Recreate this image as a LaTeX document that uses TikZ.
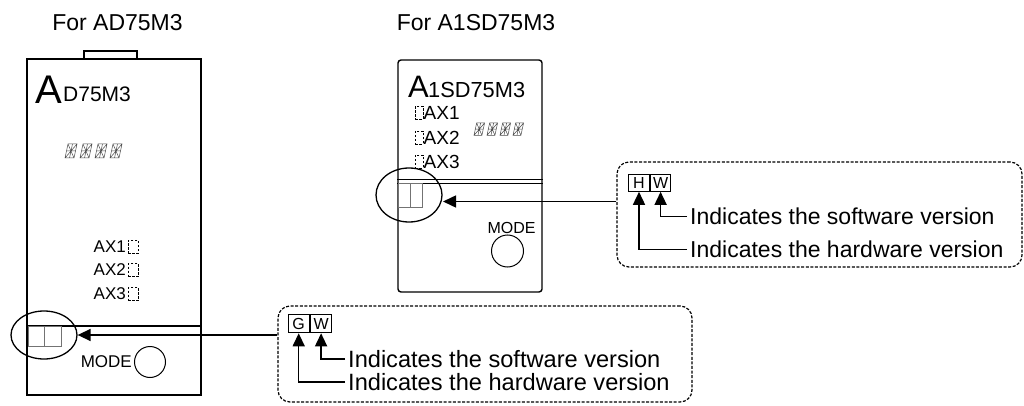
\documentclass[tikz,border=0pt]{standalone}
\usepackage{fontspec}
\setmainfont{Liberation Sans}
\usetikzlibrary{shapes.geometric,arrows.meta,calc}
\tikzset{
  seg/.pic={\draw[line width=0.5pt, black!70] (0,14) -- (9,14) -- (12,0) -- (3,0) -- cycle
      (0,14) -- (12,0) (3,0) -- (9,14) (1.5,7) -- (10.5,7) (4.5,14) -- (7.5,0);}
}
\begin{document}
\begin{tikzpicture}[x=1pt,y=-1pt,
  mod/.style={draw, line width=1.4pt, inner sep=0},
  lbl/.style={inner sep=0, font=\fontsize{23}{26}\selectfont},
  txt/.style={inner xsep=3pt, inner ysep=0, anchor=west, font=\fontsize{#1}{26}\selectfont},
  arr/.style={line width=1.5pt, -{Triangle[length=13pt,width=12pt]}},
  dbox/.style={draw, dash pattern=on 3pt off 1.6pt, line width=1.2pt, rounded corners=12pt, inner sep=0},
  vbox/.style={draw, line width=1.1pt, inner sep=0, font=\fontsize{16}{16}\selectfont},
  axb/.style={draw, dash pattern=on 2.5pt off 1.5pt, line width=0.8pt, inner sep=0, minimum height=13pt},
  axt/.style={inner sep=0, font=\fontsize{#1}{#1}\selectfont},
  lite/.style={draw=black!55, line width=0.8pt},
  ell/.style={draw, ellipse, line width=1.3pt, inner sep=0},
  btn/.style={draw, circle, line width=1pt, inner sep=0}
]
\useasboundingbox (0,0) rectangle (1024,406);

% titles
\node[lbl] (t1) at (117.5,23) {For AD75M3};
\node[lbl] (t2) at (476,23) {For A1SD75M3};

% ---------- left module ----------
\node[mod, minimum width=53pt, minimum height=8pt] (tab1) at (110.5,55) {};
\node[mod, fill=white, minimum width=174pt, minimum height=336pt] (m1) at (114,227) {};
\node[inner sep=0, anchor=base west, font=\fontsize{40}{40}\selectfont] (bigA1) at (35,104) {A};
\node[inner sep=0, anchor=base west, font=\fontsize{21}{21}\selectfont] (nm1) at (63,102) {D75M3};
\foreach \i in {0,...,3} \pic at ({65+15*\i},144) {seg};
\foreach \k/\y in {1/246.5,2/270,3/294}{
  \node[axt=17, anchor=east] (lax\k) at (126,\y) {AX\k};
  \node[axb, minimum width=10pt, anchor=west] (laxb\k) at (128,\y) {};
}
\draw[line width=1.3pt] (m1.west |- 0,326) -- (m1.east |- 0,326);
\draw[lite] (28,326) rectangle (61,346) (44,326) -- (44,346);
\node[ell, minimum width=66pt, minimum height=48pt] (e1) at (44,335) {};
\node[axt=17, anchor=east] (mode1) at (132,362) {MODE};
\node[btn, minimum size=31pt] (b1) at (150,362) {};

% ---------- upper module ----------
\node[mod, rounded corners=3pt, minimum width=144pt, minimum height=232pt] (m2) at (470,176) {};
\node[inner sep=0, anchor=base west, font=\fontsize{31}{31}\selectfont] (bigA2) at (408,98) {A};
\node[inner sep=0, anchor=base west, font=\fontsize{21.8}{22}\selectfont] (nm2) at (428,97.5) {1SD75M3};
\foreach \i in {0,...,3} \pic[scale=0.88] at ({474+13*\i},123) {seg};
\foreach \k/\y in {1/113,2/137.5,3/161.5}{
  \node[axb, minimum width=7.5pt, anchor=west] (uaxb\k) at (415,\y) {};
  \node[axt=19, anchor=west] (uax\k) at (423.5,\y) {AX\k};
}
\draw[line width=1.2pt] (m2.west |- 0,179.5) -- (m2.east |- 0,179.5)
                        (m2.west |- 0,183.5) -- (m2.east |- 0,183.5);
\draw[lite] (398,183.5) rectangle (422,207) (410,183.5) -- (410,207);
\node[ell, minimum width=66pt, minimum height=54pt] (e2) at (409,195) {};
\node[axt=16] (mode2) at (511.5,228) {MODE};
\node[btn, minimum size=32pt] (b2) at (507.5,251) {};

% ---------- lower callout ----------
\node[dbox, minimum width=414pt, minimum height=96pt] (d1) at (485,354) {};
\node[vbox, minimum width=21.3pt, minimum height=18.5pt] (g) at (298.7,323.5) {G};
\node[vbox, minimum width=21.3pt, minimum height=18.5pt, anchor=west] (w1) at (g.east) {W};
\node[txt=23.6] (sw1) at (345,359) {Indicates the software version};
\node[txt=23.6] (hw1) at (345,382) {Indicates the hardware version};
\draw[arr] (sw1.west) -| (w1.south);
\draw[arr] (hw1.west) -| (g.south);
\draw[arr] (d1.west |- e1.east) -- (e1.east);

% ---------- upper callout ----------
\node[dbox, minimum width=405pt, minimum height=105pt] (d2) at (819.5,214.5) {};
\node[vbox, minimum width=20.5pt, minimum height=16.5pt] (h) at (639,183) {H};
\node[vbox, minimum width=20.5pt, minimum height=16.5pt, anchor=west] (w2) at (h.east) {W};
\node[txt=23] (sw2) at (687,216.5) {Indicates the software version};
\node[txt=23] (hw2) at (687,249.5) {Indicates the hardware version};
\draw[arr] (sw2.west) -| (w2.south);
\draw[arr] (hw2.west) -| (h.south);
\coordinate (p2) at (443,201.5);
\draw[arr] (d2.west |- p2) -- (p2);
\end{tikzpicture}
\end{document}
